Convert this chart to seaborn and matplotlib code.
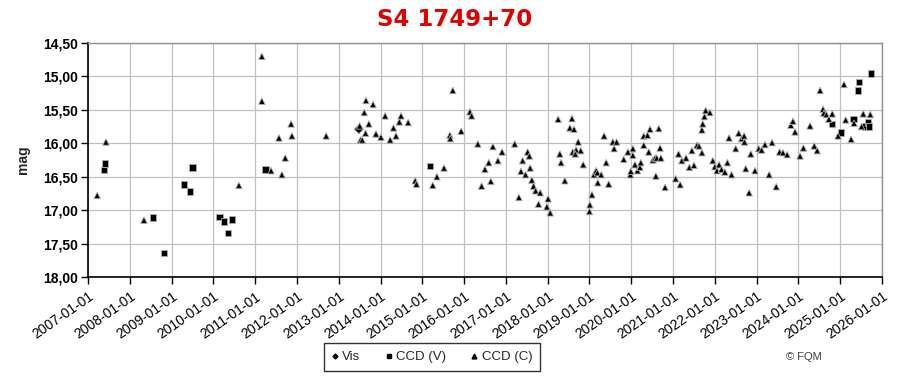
import numpy as np
import pandas as pd
import matplotlib
matplotlib.use("Agg")
import matplotlib.pyplot as plt
from matplotlib.ticker import FuncFormatter
from matplotlib.lines import Line2D
import seaborn as sns

# ---------------- data (decimal year, magnitude) ----------------
vis_t = [2013.48]
vis_m = [15.79]

ccdv_t = [2007.41, 2007.38, 2008.56, 2008.82, 2009.50, 2009.30, 2009.44, 2010.15,
          2010.25, 2010.35, 2010.45, 2011.25, 2015.18, 2024.80, 2025.02, 2025.32,
          2025.43, 2025.45, 2025.60, 2025.66, 2025.69, 2025.74]
ccdv_m = [16.30, 16.40, 17.11, 17.64, 16.36, 16.62, 16.72, 17.10,
          17.17, 17.34, 17.14, 16.39, 16.34, 15.71, 15.84, 15.64,
          15.21, 15.08, 15.75, 15.69, 15.75, 14.96]

ccdc_t = [2007.43, 2007.22, 2008.34, 2010.61, 2011.16, 2011.16, 2011.38, 2011.64,
          2011.72, 2011.57, 2011.86, 2011.88, 2012.70, 2013.50, 2013.52, 2013.56,
          2013.61, 2013.65, 2013.72, 2013.64, 2013.82, 2013.89, 2014.01, 2014.11,
          2014.23, 2014.31, 2014.37, 2014.45, 2014.49, 2014.66, 2014.83, 2014.86,
          2015.35, 2015.25, 2015.52, 2015.66, 2015.67, 2015.73, 2015.93, 2016.14,
          2016.18, 2016.33, 2016.69, 2016.59, 2016.50, 2016.64, 2016.42, 2016.81,
          2016.91, 2017.21, 2017.31, 2017.36, 2017.40, 2017.47, 2017.52, 2017.56,
          2017.58, 2017.62, 2017.66, 2017.71, 2017.82, 2017.78, 2018.01, 2017.98,
          2018.06, 2018.25, 2018.58, 2018.53, 2018.63, 2018.73, 2018.29, 2018.32,
          2018.41, 2018.60, 2018.68, 2018.79, 2018.66, 2018.85, 2019.00, 2019.01,
          2019.06, 2019.11, 2019.16, 2019.19, 2019.28, 2019.20, 2019.35, 2019.40,
          2019.46, 2019.56, 2019.65, 2019.59, 2019.82, 2019.92, 2020.04, 2020.04,
          2019.98, 2019.99, 2020.15, 2020.09, 2020.21, 2020.23, 2020.30, 2020.30,
          2020.39, 2020.45, 2020.42, 2020.52, 2020.57, 2020.61, 2020.71, 2020.66,
          2020.69, 2020.59, 2020.81, 2021.06, 2021.17, 2021.13, 2021.21, 2021.31,
          2021.39, 2021.50, 2021.45, 2021.57, 2021.62, 2021.69, 2021.69, 2021.71,
          2021.75, 2021.78, 2021.88, 2021.95, 2022.00, 2022.05, 2022.10, 2022.16,
          2022.24, 2022.30, 2022.34, 2022.40, 2022.50, 2022.57, 2022.64, 2022.70,
          2022.71, 2022.74, 2022.82, 2022.86, 2022.96, 2023.05, 2023.12, 2023.20,
          2023.37, 2023.30, 2023.47, 2023.55, 2023.63, 2023.73, 2024.04, 2024.12,
          2023.82, 2023.87, 2023.92, 2024.28, 2024.38, 2024.45, 2024.52, 2024.59,
          2024.61, 2024.67, 2024.73, 2024.81, 2024.95, 2025.09, 2025.13, 2025.26,
          2025.33, 2025.55, 2025.51, 2025.72]
ccdc_m = [15.98, 16.78, 17.15, 16.63, 14.70, 15.37, 16.41, 16.47,
          16.22, 15.92, 15.71, 15.89, 15.89, 15.74, 15.95, 15.95,
          15.54, 15.36, 15.71, 15.85, 15.42, 15.86, 15.91, 15.59,
          15.95, 15.77, 15.89, 15.68, 15.59, 15.69, 16.56, 16.61,
          16.50, 16.63, 16.37, 15.88, 15.93, 15.21, 15.82, 15.53,
          15.59, 16.01, 16.05, 16.29, 16.39, 16.57, 16.64, 16.26,
          16.13, 16.01, 16.81, 16.42, 16.26, 16.47, 16.13, 16.19,
          16.37, 16.55, 16.64, 16.71, 16.74, 16.91, 16.83, 16.95,
          17.04, 15.64, 15.63, 15.77, 15.79, 15.98, 16.16, 16.29,
          16.56, 16.13, 16.10, 16.11, 16.16, 16.32, 17.02, 16.92,
          16.77, 16.47, 16.41, 16.44, 16.47, 16.59, 15.89, 16.29,
          16.61, 15.98, 15.98, 16.08, 16.24, 16.13, 16.08, 16.18,
          16.47, 16.42, 16.41, 16.32, 16.36, 16.29, 16.03, 15.89,
          15.88, 15.79, 16.13, 16.25, 16.22, 16.22, 16.22, 15.78,
          16.07, 16.49, 16.66, 16.53, 16.62, 16.16, 16.26, 16.22,
          16.36, 16.33, 16.11, 16.03, 16.04, 16.14, 15.80, 15.71,
          15.60, 15.51, 15.54, 16.26, 16.35, 16.41, 16.32, 16.39,
          16.43, 16.29, 15.92, 16.47, 16.08, 15.85, 15.93, 15.89,
          15.98, 16.38, 16.74, 16.16, 16.41, 16.08, 16.10, 16.02,
          15.99, 16.47, 16.65, 16.13, 16.14, 16.17, 16.19, 16.07,
          15.73, 15.67, 15.83, 15.74, 16.04, 16.11, 15.21, 15.49,
          15.55, 15.57, 15.64, 15.56, 15.89, 15.12, 15.65, 15.94,
          15.70, 15.56, 15.75, 15.57]

series_names = ["Vis", "CCD (V)", "CCD (C)"]
x_tick_years = list(range(2007, 2027))
y_ticks = [14.5, 15.0, 15.5, 16.0, 16.5, 17.0, 17.5, 18.0]
title = "S4 1749+70"


def to_date(dec_years):
    out = []
    for t in dec_years:
        y = int(np.floor(t))
        start = pd.Timestamp(year=y, month=1, day=1)
        out.append(start + pd.Timedelta(days=(t - y) * 365.25))
    return out


df = pd.concat([
    pd.DataFrame({"date": to_date(vis_t), "mag": vis_m, "type": series_names[0]}),
    pd.DataFrame({"date": to_date(ccdv_t), "mag": ccdv_m, "type": series_names[1]}),
    pd.DataFrame({"date": to_date(ccdc_t), "mag": ccdc_m, "type": series_names[2]}),
], ignore_index=True)

# ---------------- figure ----------------
sns.set_theme(style="white")
plt.rcParams["font.family"] = ["Liberation Sans", "DejaVu Sans"]

fig = plt.figure(figsize=(9.11, 3.79), dpi=100)
fig.patch.set_facecolor("white")
ax = fig.add_axes([88 / 911, 1 - 277 / 379, (882 - 88) / 911, (277 - 43) / 379])

sns.scatterplot(
    data=df, x="date", y="mag", style="type", hue="type",
    palette={"Vis": "black", "CCD (V)": "black", "CCD (C)": "black"},
    markers={"Vis": "D", "CCD (V)": "s", "CCD (C)": "^"},
    style_order=series_names, hue_order=series_names,
    s=22, edgecolor="#b0b0b0", linewidth=0.6, ax=ax, legend=False, zorder=3,
)

ax.set_ylim(18.0, 14.5)
ax.set_xlim(pd.Timestamp("2007-01-01"), pd.Timestamp("2026-01-01"))

xt = [pd.Timestamp(year=y, month=1, day=1) for y in x_tick_years]
ax.set_xticks(xt)
ax.set_xticklabels([f"{y}-01-01" for y in x_tick_years], rotation=35,
                   ha="right", va="top", rotation_mode="anchor", fontsize=10)
ax.set_yticks(y_ticks)
ax.yaxis.set_major_formatter(FuncFormatter(lambda v, p: f"{v:.2f}".replace(".", ",")))
for lab in ax.get_yticklabels():
    lab.set_fontsize(10)
    lab.set_fontweight("bold")

ax.grid(True, color="#c0c0c0", linewidth=0.9)
ax.set_axisbelow(True)
ax.tick_params(axis="both", which="major", direction="out", length=5, width=1,
               color="black", labelcolor="black", pad=2)
ax.tick_params(axis="x", pad=4)
ax.xaxis.set_ticks_position("bottom")
ax.yaxis.set_ticks_position("left")

for side in ["left", "bottom"]:
    ax.spines[side].set_color("black")
    ax.spines[side].set_linewidth(1.2)
for side in ["top", "right"]:
    ax.spines[side].set_color("#909090")
    ax.spines[side].set_linewidth(1.0)

ax.set_xlabel("")
ax.set_ylabel("mag", fontsize=10, fontweight="bold", labelpad=10)

fig.text(455 / 911, 1 - 20 / 379, title, color="#e00000", fontsize=16.5,
         fontweight="bold", ha="center", va="center",
         family=["DejaVu Sans"])

# legend
handles = [
    Line2D([], [], marker="D", linestyle="none", color="black", markersize=2.5),
    Line2D([], [], marker="s", linestyle="none", color="black", markersize=3.5),
    Line2D([], [], marker="^", linestyle="none", color="black", markersize=3.5),
]
leg = fig.legend(handles, series_names, loc="center",
                 bbox_to_anchor=(432 / 911, 1 - 357 / 379), ncol=3,
                 frameon=True, fancybox=False, fontsize=9.5, handlelength=0.5,
                 handletextpad=0.3, columnspacing=1.9, borderpad=0.6)
leg.get_frame().set_edgecolor("black")
leg.get_frame().set_linewidth(1.0)

fig.text(804 / 911, 1 - 357 / 379, "© FQM", fontsize=8, color="#404040",
         ha="center", va="center")

fig.savefig("out.png", dpi=100, facecolor="white")
